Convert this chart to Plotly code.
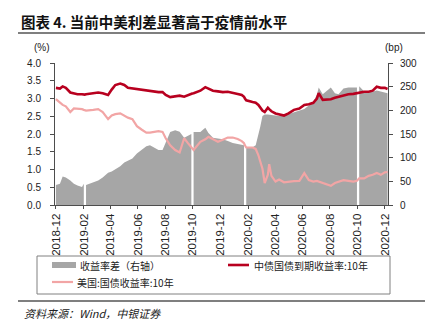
import plotly.graph_objects as go

dates = [
    "2018-12-01", "2018-12-10", "2018-12-16", "2018-12-23",
    "2019-01-02", "2019-01-10", "2019-01-18", "2019-01-28", "2019-02-01",
    "2019-02-03", "2019-02-06", "2019-02-22", "2019-03-05", "2019-03-15", "2019-03-27",
    "2019-04-04", "2019-04-12", "2019-04-23", "2019-05-02", "2019-05-10", "2019-05-20", "2019-05-30",
    "2019-06-10", "2019-06-20", "2019-06-28", "2019-07-08", "2019-07-17", "2019-07-26",
    "2019-08-02", "2019-08-12", "2019-08-23", "2019-09-02", "2019-09-12", "2019-09-20", "2019-09-28",
    "2019-09-30", "2019-10-03", "2019-10-18", "2019-10-29", "2019-11-05", "2019-11-15", "2019-11-26",
    "2019-12-07", "2019-12-18", "2019-12-29", "2020-01-09", "2020-01-18", "2020-01-23",
    "2020-01-25", "2020-01-28", "2020-02-11", "2020-02-18", "2020-02-24", "2020-02-28",
    "2020-03-04", "2020-03-09", "2020-03-16", "2020-03-19", "2020-03-24", "2020-04-02", "2020-04-10",
    "2020-04-21", "2020-05-01", "2020-05-13", "2020-05-25", "2020-06-05", "2020-06-15", "2020-06-25",
    "2020-07-03", "2020-07-07", "2020-07-16", "2020-07-24", "2020-08-03", "2020-08-12", "2020-08-20",
    "2020-08-31", "2020-09-11", "2020-09-22", "2020-09-30",
    "2020-10-02", "2020-10-05", "2020-10-16",
    "2020-10-26", "2020-11-04", "2020-11-13", "2020-11-22", "2020-12-01", "2020-12-07",
]

cn_10y = [
    3.30, 3.28, 3.34, 3.30,
    3.17, 3.14, 3.12, 3.12, 3.10,
    3.11, 3.12, 3.15, 3.17, 3.15, 3.10,
    3.25, 3.38, 3.42, 3.38, 3.30, 3.28, 3.28,
    3.24, 3.22, 3.22, 3.20, 3.18, 3.18,
    3.10, 3.04, 3.05, 3.08, 3.05, 3.10, 3.14,
    3.14, 3.15, 3.22, 3.32, 3.28, 3.22, 3.20,
    3.18, 3.19, 3.15, 3.13, 3.10, 3.05,
    3.00, 2.95, 2.90, 2.88, 2.82, 2.74,
    2.66, 2.62, 2.74, 2.70, 2.64, 2.58, 2.55,
    2.52, 2.58, 2.68, 2.72, 2.82, 2.84, 2.88,
    3.00, 3.15, 2.96, 2.96, 2.98, 3.02, 3.05,
    3.10, 3.12, 3.13, 3.15,
    3.16, 3.18, 3.19,
    3.19, 3.22, 3.33, 3.30, 3.30, 3.27,
]

us_10y = [
    2.98, 2.88, 2.82, 2.78,
    2.62, 2.72, 2.72, 2.70, 2.68,
    2.67, 2.66, 2.68, 2.70, 2.62, 2.42,
    2.52, 2.56, 2.58, 2.52, 2.46, 2.42, 2.22,
    2.12, 2.04, 2.04, 2.06, 2.08, 2.06,
    1.88, 1.68, 1.55, 1.48, 1.88, 1.75, 1.64,
    1.62, 1.55, 1.78, 1.85, 1.92, 1.85, 1.78,
    1.84, 1.90, 1.90, 1.86, 1.80, 1.74,
    1.68, 1.62, 1.62, 1.58, 1.40, 1.20,
    1.02, 0.62, 0.85, 1.15, 0.82, 0.66, 0.72,
    0.64, 0.66, 0.67, 0.68, 0.90, 0.70, 0.66,
    0.68, 0.66, 0.62, 0.58, 0.54, 0.62, 0.66,
    0.70, 0.68, 0.66, 0.68,
    0.70, 0.75, 0.75,
    0.82, 0.85, 0.90, 0.85, 0.92, 0.93,
]

# None = holiday closure (gap in the spread series)
spread_bp = [
    42, 45, 60, 58,
    52, 45, 41, 38, 45,
    None, 42, 47, 52, 58, 68,
    71, 75, 82, 90, 94, 98, 109,
    116, 124, 126, 120, 116, 116,
    131, 154, 158, 155, 142, 146, 150,
    None, 154, 154, 163, 152, 142, 141,
    139, 135, 131, 129, 128, 126,
    None, 122, 122, 126, 146, 165,
    188, 191, 191, 191, 190, 189, 188,
    189, 192, 196, 200, 203, 210, 218,
    233, 248, 234, 240, 248, 236, 234,
    246, 248, 248, 248,
    None, 251, 240,
    240, 240, 242, 240, 238, 236,
]

left_ticks = [0.0, 0.5, 1.0, 1.5, 2.0, 2.5, 3.0, 3.5, 4.0]
right_ticks = [0, 50, 100, 150, 200, 250, 300]

name_spread = "收益率差（右轴）"
name_cn = "中债国债到期收益率:10年"
name_us = "美国:国债收益率:10年"
title_text = "图表 4. 当前中美利差显著高于疫情前水平"
source_text = "资料来源：Wind，中银证券"

C_GRAY = "#A6A6A6"
C_RED = "#B8001F"
C_PINK = "#F2A5A5"

W, H = 434, 331
L, R, T, B = 55, 388, 63, 205  # plot area pixel box


def px(x):
    return (x - L) / (R - L)


def py(y):
    return (B - y) / (B - T)


CJK = "Noto Sans CJK SC, sans-serif"
LAT = "Arial, Liberation Sans, sans-serif"

fig = go.Figure()

# split the spread series at gaps so each run is filled separately
segments = []
cur_x, cur_y = [], []
for d, v in zip(dates, spread_bp):
    if v is None:
        if cur_x:
            segments.append((cur_x, cur_y))
        cur_x, cur_y = [], []
    else:
        cur_x.append(d)
        cur_y.append(v)
if cur_x:
    segments.append((cur_x, cur_y))

for i, (sx, sy) in enumerate(segments):
    fig.add_trace(go.Scatter(
        x=sx, y=sy, name=name_spread, yaxis="y", legendgroup="spread",
        mode="lines", line=dict(width=0, color=C_GRAY), fill="tozeroy",
        fillcolor=C_GRAY, showlegend=False,
    ))

fig.add_trace(go.Scatter(
    x=dates, y=cn_10y, name=name_cn, yaxis="y2", mode="lines",
    line=dict(width=2.6, color=C_RED), showlegend=False,
))
fig.add_trace(go.Scatter(
    x=dates, y=us_10y, name=name_us, yaxis="y2", mode="lines",
    line=dict(width=2.2, color=C_PINK), showlegend=False,
))

axis_common = dict(showgrid=False, zeroline=False, showline=True, linecolor="#4D4D4D",
                   linewidth=1, ticks="outside", ticklen=4, tickcolor="#4D4D4D",
                   tickfont=dict(family=LAT, size=10, color="#222"))

fig.update_layout(
    width=W, height=H,
    margin=dict(l=L, r=W - R, t=T, b=H - B),
    paper_bgcolor="white", plot_bgcolor="white",
    xaxis=dict(range=["2018-11-29", "2020-12-08"], type="date",
               tick0="2018-12-01", dtick="M2", tickformat="%Y-%m",
               tickangle=-90, **{**axis_common, "tickfont": dict(family=LAT, size=11.5, color="#222"),
                                 "ticklen": 3}),
    yaxis=dict(range=[0, 300], side="right", tickvals=right_ticks,
               ticklabelstandoff=5, **axis_common),
    yaxis2=dict(range=[0, 4], side="left", overlaying="y", tickvals=left_ticks,
                tickformat=".1f", ticklabelstandoff=7, **axis_common),
    showlegend=False,
)

ann = []
ann.append(dict(x=px(19), y=py(22), xref="paper", yref="paper", xanchor="left", yanchor="middle",
                text="<b>" + title_text + "</b>", showarrow=False,
                font=dict(family=CJK, size=14.5, color="#111")))
ann.append(dict(x=px(42), y=py(48), xref="paper", yref="paper", xanchor="center", yanchor="middle",
                text="(%)", showarrow=False, font=dict(family=LAT, size=10, color="#222")))
ann.append(dict(x=px(394), y=py(48), xref="paper", yref="paper", xanchor="center", yanchor="middle",
                text="(bp)", showarrow=False, font=dict(family=LAT, size=10, color="#222")))
ann.append(dict(x=px(78), y=py(265), xref="paper", yref="paper", xanchor="left", yanchor="middle",
                text=name_spread, showarrow=False, font=dict(family=CJK, size=10, color="#222")))
ann.append(dict(x=px(252), y=py(265), xref="paper", yref="paper", xanchor="left", yanchor="middle",
                text=name_cn, showarrow=False, font=dict(family=CJK, size=10, color="#222")))
ann.append(dict(x=px(75), y=py(282), xref="paper", yref="paper", xanchor="left", yanchor="middle",
                text=name_us, showarrow=False, font=dict(family=CJK, size=10, color="#222")))
ann.append(dict(x=px(22), y=py(313), xref="paper", yref="paper", xanchor="left", yanchor="middle",
                text="<i>" + source_text + "</i>", showarrow=False,
                font=dict(family=CJK, size=11, color="#222")))

shapes = []
shapes.append(dict(type="line", xref="paper", yref="paper", x0=px(18), x1=px(425), y0=py(33), y1=py(33),
                   line=dict(color="#7F7F7F", width=2)))
shapes.append(dict(type="line", xref="paper", yref="paper", x0=px(18), x1=px(425), y0=py(301), y1=py(301),
                   line=dict(color="#7F7F7F", width=2)))
shapes.append(dict(type="rect", xref="paper", yref="paper", x0=px(37), x1=px(390), y0=py(256), y1=py(294),
                   line=dict(color="#808080", width=1), fillcolor="rgba(0,0,0,0)"))
shapes.append(dict(type="rect", xref="paper", yref="paper", x0=px(52), x1=px(76), y0=py(262), y1=py(268),
                   line=dict(width=0), fillcolor=C_GRAY))
shapes.append(dict(type="line", xref="paper", yref="paper", x0=px(228), x1=px(249), y0=py(265), y1=py(265),
                   line=dict(color=C_RED, width=2.6)))
shapes.append(dict(type="line", xref="paper", yref="paper", x0=px(52), x1=px(73), y0=py(282), y1=py(282),
                   line=dict(color=C_PINK, width=2.2)))

fig.update_layout(annotations=ann, shapes=shapes)
fig.write_html("out.html")
